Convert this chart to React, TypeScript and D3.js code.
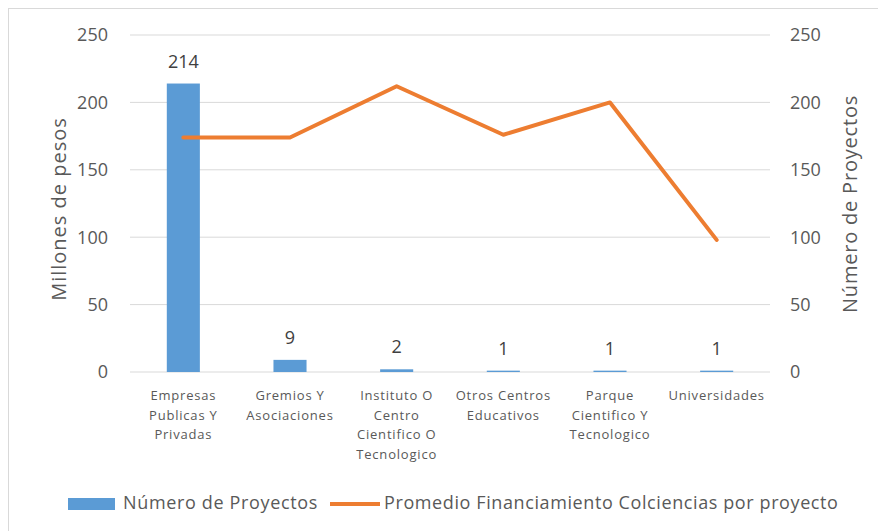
import React from 'react';
import * as d3 from 'd3';

// categories, with the line breaks used in the original axis
const categories = [
  'Empresas\nPublicas Y\nPrivadas',
  'Gremios Y\nAsociaciones',
  'Instituto O\nCentro\nCientifico O\nTecnologico',
  'Otros Centros\nEducativos',
  'Parque\nCientifico Y\nTecnologico',
  'Universidades',
];
const proyectos = [214, 9, 2, 1, 1, 1];
const promedio = [174, 174, 212, 176, 200, 98];
const yTicks = [0, 50, 100, 150, 200, 250];

const W = 878;
const H = 531;
const left = 130;
const right = 770;
const top = 35;
const bottom = 372;

const FONT = '"Open Sans", "Noto Sans", sans-serif';
const TXT = '#595959';

const App: React.FC = () => {
  const x = d3.scaleBand<number>().domain(d3.range(categories.length)).range([left, right]).paddingInner(0.69).paddingOuter(0.345);
  const y = d3.scaleLinear().domain([0, 250]).range([bottom, top]);
  const yRight = d3.scaleLinear().domain([0, 250]).range([bottom, top]);
  const cx = (i: number) => (x(i) as number) + x.bandwidth() / 2;

  const line = d3.line<number>()
    .x((_, i) => cx(i))
    .y(d => y(d));

  return (
    <div style={{ position: 'fixed', left: 0, top: 0 }}>
      <svg width={W} height={H} style={{ display: 'block', background: '#fff' }}>
        <rect x={8.5} y={8.5} width={W + 20} height={H + 20} fill="#fff" stroke="#d9d9d9" />

        {/* gridlines */}
        {yTicks.map(t => (
          <line key={t} x1={left} x2={right} y1={y(t)} y2={y(t)} stroke="#d9d9d9" strokeWidth={1} />
        ))}

        {/* left axis */}
        {yTicks.map(t => (
          <text key={'l' + t} x={108} y={y(t)} dy="0.36em" textAnchor="end" fontFamily={FONT} fontSize={18} fill={TXT}>{t}</text>
        ))}
        {/* right axis */}
        {yTicks.map(t => (
          <text key={'r' + t} x={790} y={yRight(t)} dy="0.36em" textAnchor="start" fontFamily={FONT} fontSize={18} fill={TXT}>{t}</text>
        ))}

        <text transform={`translate(66,209) rotate(-90)`} textAnchor="middle" fontFamily={FONT} fontSize={20} letterSpacing={1} fill={TXT}>Millones de pesos</text>
        <text transform={`translate(857,204) rotate(-90)`} textAnchor="middle" fontFamily={FONT} fontSize={20} letterSpacing={0.8} fill={TXT}>Número de Proyectos</text>

        {/* bars */}
        {proyectos.map((v, i) => (
          <rect key={'b' + i} x={x(i)} y={y(v)} width={x.bandwidth()} height={y(0) - y(v)} fill="#5b9bd5" />
        ))}
        {proyectos.map((v, i) => (
          <text key={'bl' + i} x={cx(i)} y={y(v) - 16} textAnchor="middle" fontFamily={FONT} fontSize={18} fill="#404040">{v}</text>
        ))}

        {/* line */}
        <path d={line(promedio) || ''} fill="none" stroke="#ed7d31" strokeWidth={4} strokeLinejoin="round" strokeLinecap="round" />

        {/* category labels */}
        {categories.map((c, i) => (
          <text key={'c' + i} x={cx(i)} y={400} textAnchor="middle" fontFamily={FONT} fontSize={13} letterSpacing={0.8} fill={TXT}>
            {c.split('\n').map((ln, j) => (
              <tspan key={j} x={cx(i)} dy={j === 0 ? 0 : 19.5}>{ln}</tspan>
            ))}
          </text>
        ))}

        {/* legend */}
        <rect x={68} y={498} width={47} height={12} fill="#5b9bd5" />
        <text x={123} y={509} fontFamily={FONT} fontSize={18} letterSpacing={0.65} fill={TXT}>Número de Proyectos</text>
        <line x1={330} x2={380} y1={504} y2={504} stroke="#ed7d31" strokeWidth={4} />
        <text x={384} y={509} fontFamily={FONT} fontSize={18} letterSpacing={0.6} fill={TXT}>Promedio Financiamiento Colciencias por proyecto</text>
      </svg>
    </div>
  );
};

export default App;
